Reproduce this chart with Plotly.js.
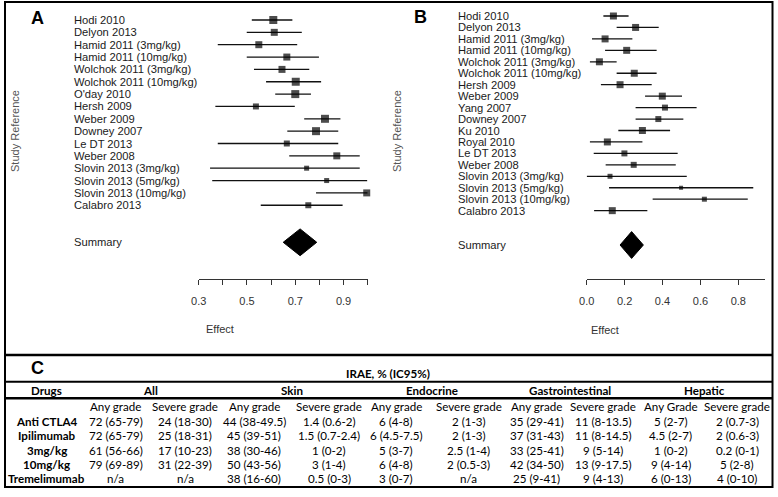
<!DOCTYPE html>
<html>
<head>
<meta charset="utf-8">
<script src="https://cdn.plot.ly/plotly-3.0.1.min.js"></script>
<style>html,body{margin:0;padding:0;background:#fff;}#chart{width:778px;height:497px;}</style>
</head>
<body>
<div id="chart"></div>
<script>
// ---------- Panel A data ----------
const studiesA = ["Hodi 2010","Delyon 2013","Hamid 2011 (3mg/kg)","Hamid 2011 (10mg/kg)","Wolchok 2011 (3mg/kg)","Wolchok 2011 (10mg/kg)","O'day 2010","Hersh 2009","Weber 2009","Downey 2007","Le DT 2013","Weber 2008","Slovin 2013 (3mg/kg)","Slovin 2013 (5mg/kg)","Slovin 2013 (10mg/kg)","Calabro 2013"];
const estA = [0.609,0.613,0.549,0.665,0.645,0.702,0.700,0.537,0.823,0.786,0.665,0.872,0.747,0.830,0.996,0.754];
const loA  = [0.520,0.499,0.379,0.499,0.529,0.579,0.617,0.369,0.737,0.667,0.379,0.675,0.347,0.356,0.786,0.557];
const hiA  = [0.688,0.727,0.708,0.798,0.758,0.807,0.765,0.698,0.887,0.878,0.878,0.967,0.967,0.998,1.000,0.896];
const weightA = [8,7,7,7,7,8,8,6,8,8,6,7,5,5,7,6];
const summaryA = {est:0.720, lo:0.650, hi:0.789};
const ticksA = [0.3,0.4,0.5,0.6,0.7,0.8,0.9,1.0];
const tickTextA = ["0.3","","0.5","","0.7","","0.9",""];

// ---------- Panel B data ----------
const studiesB = ["Hodi 2010","Delyon 2013","Hamid 2011 (3mg/kg)","Hamid 2011 (10mg/kg)","Wolchok 2011 (3mg/kg)","Wolchok 2011 (10mg/kg)","Hersh 2009","Weber 2009","Yang 2007","Downey 2007","Ku 2010","Royal 2010","Le DT 2013","Weber 2008","Slovin 2013 (3mg/kg)","Slovin 2013 (5mg/kg)","Slovin 2013 (10mg/kg)","Calabro 2013"];
const estB = [0.141,0.258,0.097,0.211,0.067,0.251,0.176,0.399,0.413,0.378,0.294,0.109,0.199,0.248,0.123,0.498,0.621,0.135];
const loB  = [0.088,0.158,0.028,0.097,0.017,0.158,0.075,0.308,0.258,0.258,0.167,0.017,0.037,0.100,0.000,0.118,0.348,0.039];
const hiB  = [0.221,0.380,0.241,0.369,0.158,0.369,0.343,0.503,0.580,0.510,0.440,0.294,0.480,0.470,0.528,0.879,0.850,0.320];
const weightB = [7,7,7,7,7,7,7,7,6,6,7,7,6,6,5,4,5,7];
const summaryB = {est:0.237, lo:0.176, hi:0.299};
const ticksB = [0,0.2,0.4,0.6,0.8];
const tickTextB = ["0.0","0.2","0.4","0.6","0.8"];

// ---------- Panel C table data ----------
const tableTitle = "IRAE, % (IC95%)";
const tableGroups = ["All","Skin","Endocrine","Gastrointestinal","Hepatic"];
const tableSub = ["Any grade","Severe grade","Any grade","Severe grade","Any grade","Severe grade","Any grade","Severe grade","Any Grade","Severe grade"];
const drugs = ["Anti CTLA4","Ipilimumab","3mg/kg","10mg/kg","Tremelimumab"];
const allAny  = ["72 (65-79)","72 (65-79)","61 (56-66)","79 (69-89)","n/a"];
const allSev  = ["24 (18-30)","25 (18-31)","17 (10-23)","31 (22-39)","n/a"];
const skinAny = ["44 (38-49.5)","45 (39-51)","38 (30-46)","50 (43-56)","38 (16-60)"];
const skinSev = ["1.4 (0.6-2)","1.5 (0.7-2.4)","1 (0-2)","3 (1-4)","0.5 (0-3)"];
const endoAny = ["6 (4-8)","6 (4.5-7.5)","5 (3-7)","6 (4-8)","3 (0-7)"];
const endoSev = ["2 (1-3)","2 (1-3)","2.5 (1-4)","2 (0.5-3)","n/a"];
const giAny   = ["35 (29-41)","37 (31-43)","33 (25-41)","42 (34-50)","25 (9-41)"];
const giSev   = ["11 (8-13.5)","11 (8-14.5)","9 (5-14)","13 (9-17.5)","9 (4-13)"];
const hepAny  = ["5 (2-7)","4.5 (2-7)","1 (0-2)","9 (4-14)","6 (0-13)"];
const hepSev  = ["2 (0.7-3)","2 (0.6-3)","0.2 (0-1)","5 (2-8)","4 (0-10)"];

// ---------- helpers ----------
const W = 778, H = 497;
const px = v => v / W;
const py = v => 1 - v / H;
const ARIAL = "Liberation Sans, Arial, sans-serif";
const CAL = "Lato, Open Sans, sans-serif";
const TXT = "#1a1a1a";

function ciTrace(lo, hi, xa, ya) {
  const x = [], y = [];
  lo.forEach((l, i) => { x.push(l, hi[i], null); y.push(i, i, null); });
  return {type:"scatter", mode:"lines", x, y, xaxis:xa, yaxis:ya, line:{color:"#111", width:1.3}, hoverinfo:"skip", showlegend:false, cliponaxis:false};
}
function boxTrace(est, w, xa, ya) {
  return {type:"scatter", mode:"markers", x:est, y:est.map((_, i) => i), xaxis:xa, yaxis:ya,
    marker:{symbol:"square", size:w, color:"#000", line:{width:0}}, showlegend:false, cliponaxis:false};
}
function diamondTrace(s, row, half, xa, ya) {
  return {type:"scatter", mode:"lines", x:[s.lo, s.est, s.hi, s.est, s.lo], y:[row, row - half, row, row + half, row],
    fill:"toself", fillcolor:"#000", line:{color:"#000", width:1}, xaxis:xa, yaxis:ya, showlegend:false, cliponaxis:false};
}

const rowA0 = 20, stepA = 12.35, rowB0 = 16, stepB = 11.45, axisY = 279;
const sumRowA = studiesA.length + 2, sumRowB = studiesB.length + 2;

const data = [
  ciTrace(loA, hiA, "x", "y"),
  boxTrace(estA, weightA, "x", "y"),
  diamondTrace(summaryA, sumRowA, 13.4 / stepA, "x", "y"),
  ciTrace(loB, hiB, "x2", "y2"),
  boxTrace(estB, weightB, "x2", "y2"),
  diamondTrace(summaryB, sumRowB, 13.4 / stepB, "x2", "y2")
];

const ann = [];
const P = (text, x, y, font, extra) => Object.assign({text, xref:"paper", yref:"paper", x:px(x), y:py(y), xanchor:"center", yanchor:"middle", showarrow:false, font}, extra || {});
studiesA.concat(["Summary"]).forEach((s, i) => {
  ann.push({text:s, xref:"paper", yref:"y", x:px(71.5), y: i < studiesA.length ? i : sumRowA, xanchor:"left", yanchor:"middle", showarrow:false, font:{family:ARIAL, size:11.2, color:TXT}});
});
studiesB.concat(["Summary"]).forEach((s, i) => {
  ann.push({text:s, xref:"paper", yref:"y2", x:px(455.5), y: i < studiesB.length ? i : sumRowB, xanchor:"left", yanchor:"middle", showarrow:false, font:{family:ARIAL, size:11.2, color:TXT}});
});
// panel letters & axis labels
const big = {family:ARIAL, size:18, color:"#000"};
ann.push(P("<b>A</b>", 37, 18, big));
ann.push(P("<b>B</b>", 421, 17, big));
ann.push(P("<b>C</b>", 37, 368, big));
ann.push(P("Study Reference", 15, 131, {family:ARIAL, size:11, color:"#555"}, {textangle:-90}));
ann.push(P("Study Reference", 397, 131, {family:ARIAL, size:11, color:"#555"}, {textangle:-90}));
ann.push(P("Effect", 219.5, 329, {family:ARIAL, size:11, color:"#333"}));
ann.push(P("Effect", 605, 330, {family:ARIAL, size:11, color:"#333"}));

// table
const colX = [115.8,185,254,329.3,396,468.7,536.7,603,670.5,737];
const groupX = [150,291.5,432,570,704];
const drugX = 46.5;
const tfont = {family:CAL, size:11.6, color:"#000"};
ann.push(P("<b>"+tableTitle+"</b>", 388, 373, tfont));
ann.push(P("<b>Drugs</b>", drugX, 390, tfont));
tableGroups.forEach((g, i) => ann.push(P("<b>"+g+"</b>", groupX[i], 390, tfont)));
tableSub.forEach((g, i) => ann.push(P(g, colX[i], 406.7, tfont)));
const cols = [allAny, allSev, skinAny, skinSev, endoAny, endoSev, giAny, giSev, hepAny, hepSev];
drugs.forEach((d, r) => {
  const yy = 421.7 + 14.15 * r;
  ann.push(P("<b>"+d+"</b>", drugX, yy, tfont));
  cols.forEach((c, j) => ann.push(P(c[r], colX[j], yy, tfont)));
});

const hline = (y, w) => ({type:"line", xref:"paper", yref:"paper", x0:px(5), x1:px(772.5), y0:py(y), y1:py(y), line:{color:"#000", width:w}});
const shapes = [
  {type:"rect", xref:"paper", yref:"paper", x0:px(5), x1:px(772.5), y0:py(487), y1:py(2), line:{color:"#000", width:2}},
  hline(355, 2.5), hline(381.7, 2), hline(398.3, 2.5)
];

const axBase = {showgrid:false, zeroline:false, showline:true, linecolor:"#333", linewidth:1, ticks:"outside", ticklen:5, tickcolor:"#333", tickwidth:1,
  tickfont:{family:ARIAL, size:11, color:"#333"}, ticklabelstandoff:7, fixedrange:true};

const layout = {
  width:W, height:H, margin:{l:0, r:0, t:0, b:0}, paper_bgcolor:"#fff", plot_bgcolor:"rgba(0,0,0,0)", showlegend:false,
  xaxis: Object.assign({}, axBase, {domain:[px(198.7), px(367.7)], range:[0.3, 1.0], tickmode:"array", tickvals:ticksA, ticktext:tickTextA, anchor:"y"}),
  yaxis: {domain:[py(axisY), 1], range:[(axisY - rowA0) / stepA, -rowA0 / stepA], visible:false, anchor:"x", fixedrange:true},
  xaxis2: Object.assign({}, axBase, {domain:[px(586.7), px(765)], range:[0, (765 - 586.7) / 189.5], tickmode:"array", tickvals:ticksB, ticktext:tickTextB, anchor:"y2"}),
  yaxis2: {domain:[py(axisY), 1], range:[(axisY - rowB0) / stepB, -rowB0 / stepB], visible:false, anchor:"x2", fixedrange:true},
  annotations: ann,
  shapes: shapes
};

Plotly.newPlot("chart", data, layout, {staticPlot:true, displayModeBar:false});
</script>
</body>
</html>
